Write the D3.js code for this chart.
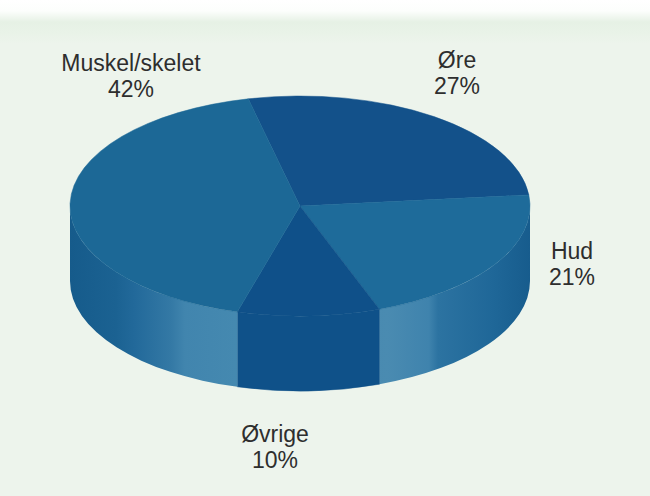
<!DOCTYPE html>
<html>
<head>
<meta charset="utf-8">
<script src="https://cdn.jsdelivr.net/npm/d3@7/dist/d3.min.js"></script>
<style>
  html, body { margin: 0; padding: 0; background: #edf4ec; }
  svg { display: block; }
  text { font-family: "Liberation Sans", Arial, sans-serif; fill: #2e2e2e; }
</style>
</head>
<body>
<svg id="chart" width="650" height="496"></svg>
<script>
// Share of cases by body region
const categories = ["Øre", "Hud", "Øvrige", "Muskel/skelet"];
const values = [27, 21, 10, 42];
const valueLabels = ["27%", "21%", "10%", "42%"];

const W = 650, H = 496;
const cx = 300, cy = 206;     // centre of the top face
const rx = 230, ry = 110;     // ellipse radii of the top face
const depth = 75;             // thickness of the disc
const startDeg = -13;

const topColor = {
  "Øre": "#13518a",
  "Hud": "#1e6b9a",
  "Øvrige": "#0f5089",
  "Muskel/skelet": "#1c6896"
};

// label anchor points (centre of first line baseline)
const labelPos = {
  "Muskel/skelet": [131, 71],
  "Øre": [457, 68],
  "Hud": [572, 259],
  "Øvrige": [275, 442]
};

const svg = d3.select("#chart");
const defs = svg.append("defs");

// background with a pale band along the top edge
const bgGrad = defs.append("linearGradient").attr("id", "bgTop")
  .attr("x1", 0).attr("y1", 0).attr("x2", 0).attr("y2", 1);
[[0, "#ffffff"], [0.25, "#fcfefc"], [0.5, "#e6f1e5"], [0.75, "#e9f3e8"], [1, "#edf4ec"]]
  .forEach(([o, c]) => bgGrad.append("stop").attr("offset", o).attr("stop-color", c));
svg.append("rect").attr("width", W).attr("height", H).attr("fill", "#edf4ec");
svg.append("rect").attr("width", W).attr("height", 44).attr("fill", "url(#bgTop)");

// side-wall shading, left to right across the disc
const sideGrad = defs.append("linearGradient").attr("id", "sideLight")
  .attr("gradientUnits", "userSpaceOnUse")
  .attr("x1", cx - rx).attr("y1", 0).attr("x2", cx + rx).attr("y2", 0);
[
  [0.00, "#165b8b"], [0.10, "#1b6292"], [0.14, "#22699a"], [0.22, "#3479a5"],
  [0.25, "#4185ae"], [0.36, "#4589b0"], [0.40, "#3f83ac"],
  [0.69, "#4a8bb1"], [0.78, "#3f83ad"], [0.80, "#2c73a1"], [0.92, "#1f6798"],
  [1.00, "#175c8d"]
].forEach(([o, c]) => sideGrad.append("stop").attr("offset", o).attr("stop-color", c));

const sideColor = {
  "Øre": "url(#sideLight)",
  "Hud": "url(#sideLight)",
  "Øvrige": "#0f5189",
  "Muskel/skelet": "url(#sideLight)"
};

const data = categories.map((c, i) => ({ name: c, value: values[i], label: valueLabels[i] }));
const s0 = startDeg * Math.PI / 180;
const arcs = d3.pie().sort(null).value(d => d.value)
  .startAngle(s0).endAngle(s0 + 2 * Math.PI)(data);

// angle measured clockwise from 12 o'clock
const pt = (a, dy = 0) => [cx + rx * Math.sin(a), cy - ry * Math.cos(a) + dy];

function topPath(d) {
  const p0 = pt(d.startAngle), p1 = pt(d.endAngle);
  const large = (d.endAngle - d.startAngle) > Math.PI ? 1 : 0;
  return `M${cx},${cy}L${p0[0]},${p0[1]}A${rx},${ry} 0 ${large} 1 ${p1[0]},${p1[1]}Z`;
}

function sidePaths(d) {
  const out = [];
  const lo = Math.PI / 2, hi = 3 * Math.PI / 2;
  for (let k = -1; k <= 1; k++) {
    const a0 = Math.max(d.startAngle + 2 * Math.PI * k, lo);
    const a1 = Math.min(d.endAngle + 2 * Math.PI * k, hi);
    if (a1 > a0) {
      const p0 = pt(a0), p1 = pt(a1), q0 = pt(a0, depth), q1 = pt(a1, depth);
      out.push(`M${p0[0]},${p0[1]}A${rx},${ry} 0 0 1 ${p1[0]},${p1[1]}` +
               `L${q1[0]},${q1[1]}A${rx},${ry} 0 0 0 ${q0[0]},${q0[1]}Z`);
    }
  }
  return out;
}

const pie = svg.append("g");

// side walls
arcs.forEach(d => {
  sidePaths(d).forEach(p => {
    pie.append("path").attr("d", p)
      .attr("fill", sideColor[d.data.name])
      .attr("stroke", sideColor[d.data.name] === "#0f5189" ? "#0f5189" : "none")
      .attr("stroke-width", 0.5);
  });
});

// top faces
pie.selectAll("path.top").data(arcs).join("path")
  .attr("class", "top")
  .attr("d", topPath)
  .attr("fill", d => topColor[d.data.name])
  .attr("stroke", d => topColor[d.data.name])
  .attr("stroke-width", 0.5);

// labels
const lbl = svg.append("g").selectAll("text").data(arcs).join("text")
  .attr("text-anchor", "middle")
  .attr("font-size", 23)
  .attr("x", d => labelPos[d.data.name][0])
  .attr("y", d => labelPos[d.data.name][1]);
lbl.append("tspan").text(d => d.data.name);
lbl.append("tspan")
  .attr("x", d => labelPos[d.data.name][0])
  .attr("dy", 26)
  .text(d => d.data.label);
</script>
</body>
</html>
